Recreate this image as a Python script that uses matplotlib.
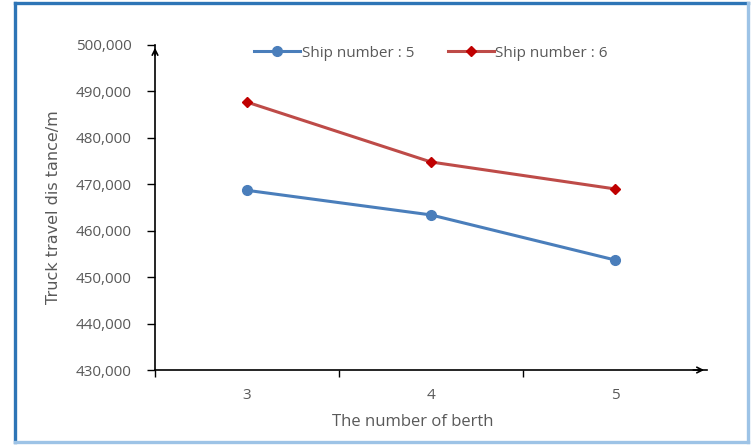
import matplotlib
matplotlib.use("Agg")
import matplotlib.pyplot as plt
from matplotlib.lines import Line2D
from matplotlib.ticker import FuncFormatter

berths = [3, 4, 5]
ship5 = [468700, 463400, 453700]
ship6 = [487700, 474800, 469000]
labels = ['Ship number : 5', 'Ship number : 6']

plt.rcParams['font.family'] = ['Open Sans', 'DejaVu Sans']

fig = plt.figure(figsize=(7.51, 4.45), dpi=100)
ax = fig.add_axes([0.2064, 0.1685, 0.735, 0.7304])

ax.plot(berths, ship5, color='#4a7ebb', lw=2.2, marker='o', ms=7,
        markerfacecolor='#4a7ebb', markeredgecolor='#4a7ebb', label=labels[0])
ax.plot(berths, ship6, color='#be4b48', lw=2.2, marker='D', ms=5,
        markerfacecolor='#c00000', markeredgecolor='#c00000', label=labels[1])

ax.set_xlim(2.5, 5.5)
ax.set_ylim(430000, 500000)
ax.set_yticks(range(430000, 500001, 10000))
ax.yaxis.set_major_formatter(FuncFormatter(lambda v, p: f'{int(v):,}'))
ax.set_xticks([2.5, 3.5, 4.5])
ax.set_xticklabels([])
ax.set_xticks(berths, minor=True)
ax.set_xticklabels([str(b) for b in berths], minor=True)
ax.tick_params(axis='x', which='minor', length=0, pad=13, labelsize=11, labelcolor='#595959')
ax.tick_params(axis='x', which='major', length=5, width=1, direction='out')
ax.tick_params(axis='y', length=6, width=1, direction='out', labelsize=11,
               labelcolor='#595959', pad=11)

for s in ['top', 'right']:
    ax.spines[s].set_visible(False)
for s in ['left', 'bottom']:
    ax.spines[s].set_linewidth(1.2)
    ax.spines[s].set_color('black')

# axis arrows
ax.annotate('', xy=(0, 1.0), xycoords='axes fraction', xytext=(0, 0.96),
            arrowprops=dict(arrowstyle='->', color='black', lw=1.2), annotation_clip=False)
ax.annotate('', xy=(1.0, 0), xycoords='axes fraction', xytext=(0.97, 0),
            arrowprops=dict(arrowstyle='->', color='black', lw=1.2), annotation_clip=False)

ax.set_xlabel('The number of berth', fontsize=12, color='#595959')
ax.xaxis.set_label_coords(0.467, -0.135)
ax.set_ylabel('Truck travel dis tance/m', fontsize=11.5, color='#595959',
              family='DejaVu Sans')
ax.yaxis.set_label_coords(-0.17, 0.5)

ax.legend(loc='upper center', bbox_to_anchor=(0.5, 1.04), ncol=2, frameon=False,
          fontsize=11, labelcolor='#595959', handlelength=3, handletextpad=0.1,
          columnspacing=2.2)

# outer frame: darker blue on top/left, lighter on right/bottom
fig.add_artist(Line2D([15 / 751, 15 / 751], [3 / 445, 442 / 445], transform=fig.transFigure,
                      color='#2e75b6', lw=2.4))
fig.add_artist(Line2D([15 / 751, 748 / 751], [442 / 445, 442 / 445], transform=fig.transFigure,
                      color='#2e75b6', lw=2.4))
fig.add_artist(Line2D([748 / 751, 748 / 751], [3 / 445, 442 / 445], transform=fig.transFigure,
                      color='#9dc3e6', lw=2.4))
fig.add_artist(Line2D([15 / 751, 748 / 751], [3 / 445, 3 / 445], transform=fig.transFigure,
                      color='#9dc3e6', lw=2.4))

fig.savefig('out.png', dpi=100)
